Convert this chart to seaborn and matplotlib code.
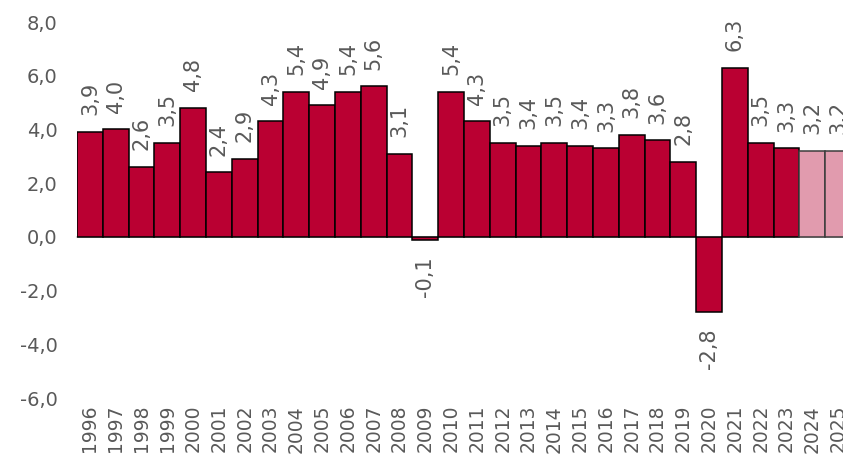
import matplotlib
matplotlib.use("Agg")
import matplotlib.pyplot as plt
import seaborn as sns
import pandas as pd
import numpy as np

# Annual growth rates (%), last two years are forecasts
years = [str(y) for y in range(1996, 2026)]
growth = [3.9, 4.0, 2.6, 3.5, 4.8, 2.4, 2.9, 4.3, 5.4, 4.9, 5.4, 5.6, 3.1, -0.1,
          5.4, 4.3, 3.5, 3.4, 3.5, 3.4, 3.3, 3.8, 3.6, 2.8, -2.8, 6.3, 3.5, 3.3,
          3.2, 3.2]
kind = ["actual"] * 28 + ["forecast"] * 2

y_ticks = [-6, -4, -2, 0, 2, 4, 6, 8]

df = pd.DataFrame({"year": years, "growth": growth, "kind": kind})

sns.set_theme(style="white")
plt.rcParams["font.family"] = ["DejaVu Sans"]

TEXT = "#595959"
palette = {"actual": "#BA0032", "forecast": "#E19BAE"}

fig = plt.figure(figsize=(8.43, 4.65), dpi=100)
ax = fig.add_axes([77 / 843, (465 - 398) / 465, 774 / 843, 376 / 465])

sns.barplot(data=df, x="year", y="growth", hue="kind", palette=palette,
            dodge=False, width=1.0, saturation=1, edgecolor="black",
            linewidth=1.1, legend=False, ax=ax)

# Softer outline for the forecast bars
for patch, k in zip(ax.patches, kind):
    if k == "forecast":
        patch.set_edgecolor("#3c3c3c")

ax.set_xlim(-0.5, len(years) - 0.5)
ax.set_ylim(-6, 8)
ax.set_yticks(y_ticks)
ax.set_yticklabels([f"{v:.1f}".replace(".", ",") for v in y_ticks])
ax.tick_params(axis="y", length=0, pad=14, labelsize=14, labelcolor=TEXT)
ax.set_xlabel("")
ax.set_ylabel("")

for s in ["left", "right", "top"]:
    ax.spines[s].set_visible(False)

# Category axis line sits at zero, with ticks between the bars
ax.spines["bottom"].set_position(("data", 0))
ax.spines["bottom"].set_color("#d9d9d9")
ax.spines["bottom"].set_linewidth(1.5)
ax.spines["bottom"].set_zorder(0)
ax.set_xticks(np.arange(-0.5, len(years), 1.0))
ax.set_xticklabels([])
ax.tick_params(axis="x", length=5, width=1.5, color="#d9d9d9", direction="out")

# Year labels along the bottom of the plot
sec = ax.secondary_xaxis(0)
sec.set_xticks(range(len(years)))
sec.set_xticklabels(years, rotation=90)
sec.tick_params(length=0, pad=5, labelsize=13.5, labelcolor=TEXT)
sec.spines["bottom"].set_visible(False)

# Value labels
for i, v in enumerate(growth):
    txt = f"{v:.1f}".replace(".", ",")
    if v >= 0:
        ax.annotate(txt, (i, v), xytext=(0, 12), textcoords="offset points",
                    rotation=90, ha="center", va="bottom", fontsize=15,
                    color=TEXT, annotation_clip=False)
    else:
        ax.annotate(txt, (i, v), xytext=(0, -12), textcoords="offset points",
                    rotation=90, ha="center", va="top", fontsize=15,
                    color=TEXT, annotation_clip=False)

fig.savefig("out.png", dpi=100)
